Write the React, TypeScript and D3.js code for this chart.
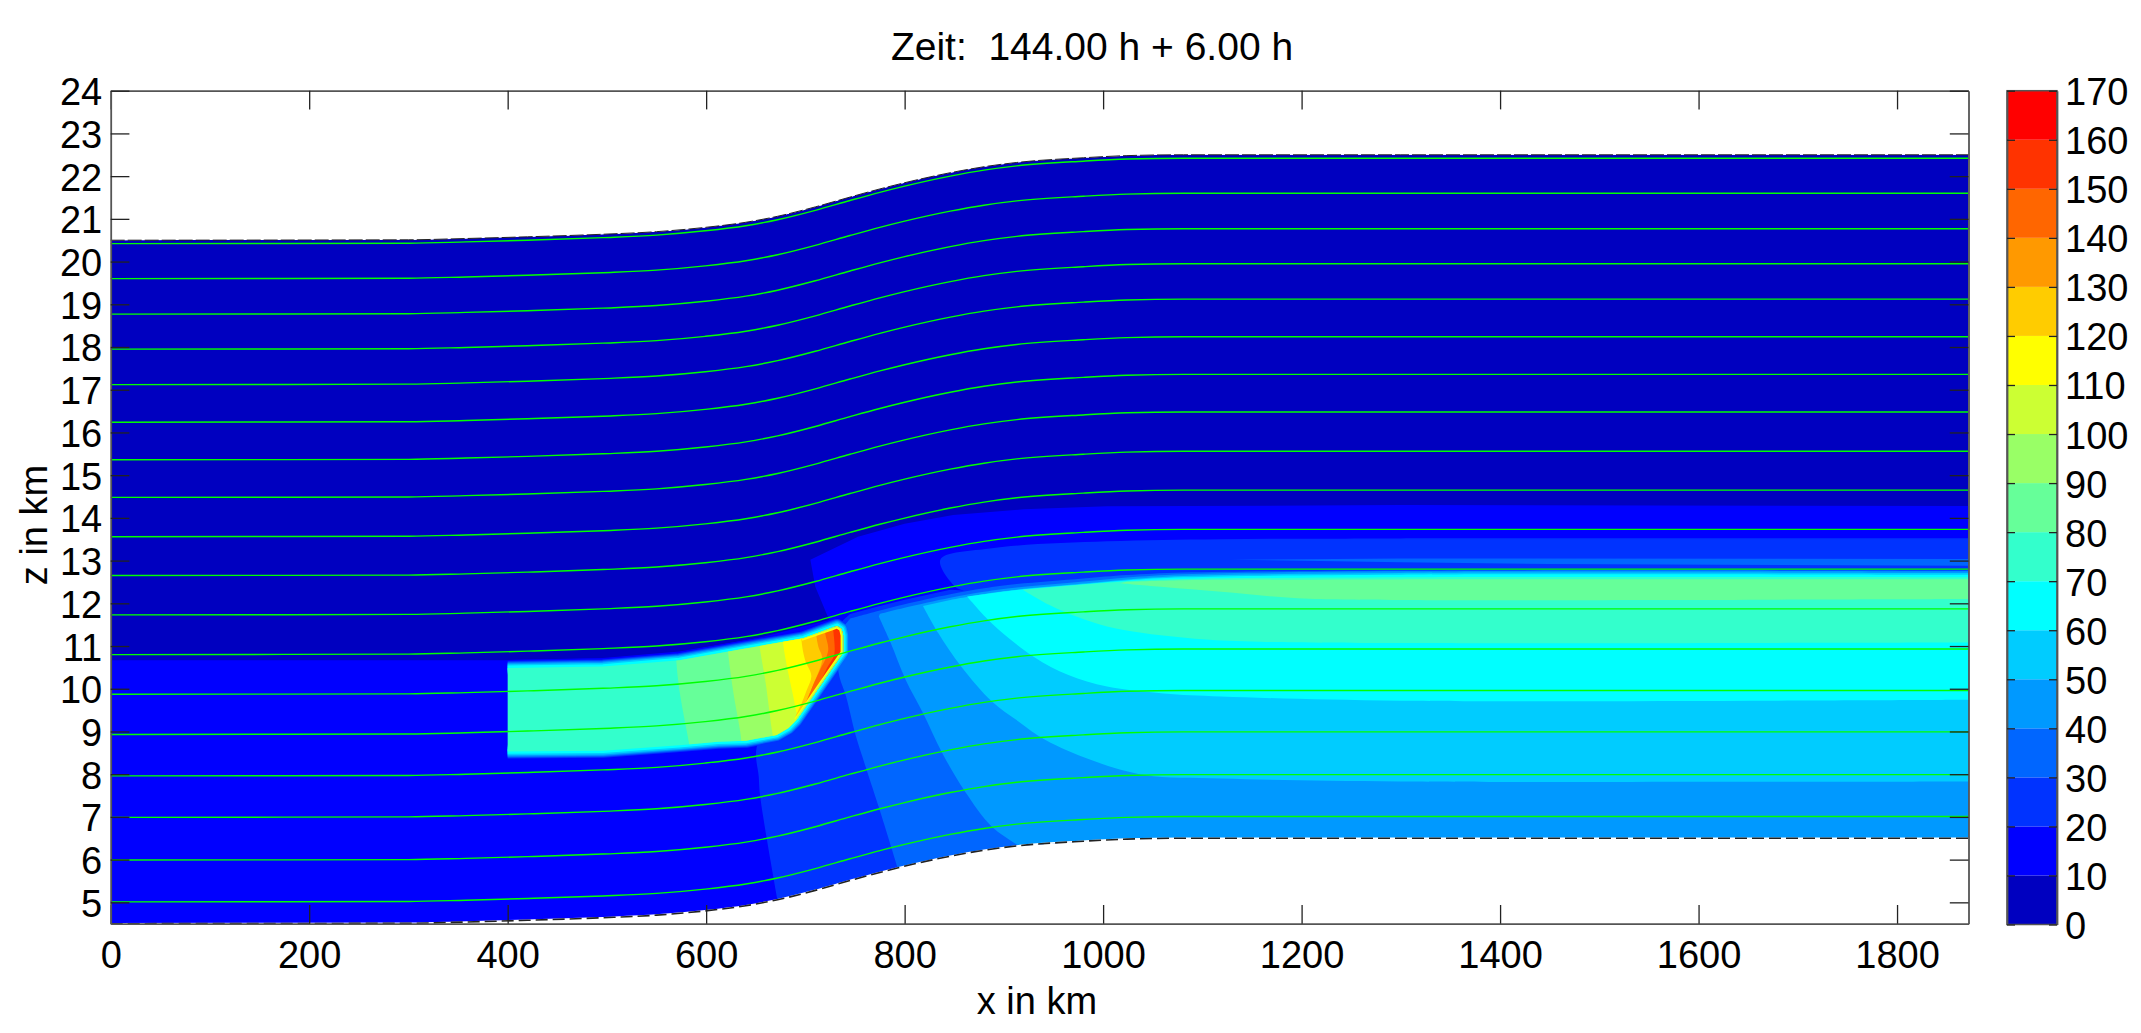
import React, { useEffect, useRef } from 'react'
import * as d3 from 'd3'

type Pt = [number, number]

const W = 2141
const H = 1033

// plot frame
const xDomain = [0, 1872]
const zDomain = [4.5, 24]
const xTicks = [0, 200, 400, 600, 800, 1000, 1200, 1400, 1600, 1800]
const zTicks = d3.range(5, 25)
const barTicks = d3.range(0, 180, 10)

// one colour per 10-unit class, 0-10 up to 160-170
const classColors = [
  '#0000c0', '#0000ff', '#0033ff', '#0066ff', '#0099ff', '#00ccff', '#00ffff', '#33ffcc', '#66ff99',
  '#99ff66', '#ccff33', '#ffff00', '#ffcc00', '#ff9900', '#ff6600', '#ff3300', '#ff0000',
]

// lift of the terrain and of the coordinate surfaces along x
const liftX = [0, 300, 358, 420, 496, 550, 599, 640, 672, 710, 745, 775, 799, 846, 880, 913, 980, 1024, 1081, 1300, 1872]
const liftKm = [0, 0.01, 0.04, 0.08, 0.14, 0.2, 0.3, 0.42, 0.56, 0.78, 1.01, 1.2, 1.34, 1.58, 1.72, 1.82, 1.93, 1.98, 2, 2, 2]
const groundKm = 4.5
const lidKm = 20.5

// green surfaces, height at x = 0
const surfaceKm = [20.42, 19.6, 18.77, 17.95, 17.12, 16.24, 15.36, 14.48, 13.56, 12.65, 11.73, 10.8, 9.87, 8.93, 7.96, 6.99, 5.99, 5.01]
const interfaceKm = 10.8

// how far each class top sits under the interface, west and east of the ridge (classes 2..8)
const rimWest = [0.06, 0.17, 0.25, 0.3, 0.31, 0.31, 0.3]
const rimEast = [0.0, 0.03, 0.05, 0.09, 0.13, 0.19, 0.24]

// class 1
const class1Outline: Pt[] = [
  [0, 10.67], [400, 10.67], [496, 10.72], [573, 10.87], [651, 11.18], [724, 11.61], [710, 12.39], [705, 13.02],
  [753, 13.56], [800, 13.86], [849, 14.07], [920, 14.2], [1004, 14.27], [1300, 14.3], [1872, 14.28], [1872, 4], [0, 4],
]

// class 2
const class2West: Pt[] = [[672, 5.05], [654.5, 7.47], [653, 7.94], [651, 8.64], [690, 10.5], [733, 11.5]]
const class2North: Pt[] = [[860, 12.3], [851, 12.39], [836, 13.02], [888, 13.29], [1004, 13.45], [1119, 13.5], [1300, 13.52], [1872, 13.52]]

// thin class 3 sliver above the interface
const class3Sliver: Pt[] = [[1129, 13.02], [1300, 13.05], [1872, 13.04], [1872, 12.88], [1450, 12.92], [1300, 12.96]]

// lower edges of classes 3..8 under the interface, top to bottom
const class3Edge: Pt[] = [[733, 11.3], [733.6, 10.36], [741, 9.82], [751, 8.88], [760.6, 8.18], [776, 7.08], [793, 5.8]]
const class4Edge: Pt[] = [[774, 11.69], [786, 11.07], [801, 10.21], [818.5, 9.43], [838, 8.49], [861, 7.59], [888, 6.77], [917, 6.3]]
const class5Edge: Pt[] = [[818.5, 11.94], [834, 11.3], [857, 10.52], [888, 9.7], [915, 9.23], [942, 8.8], [988, 8.33], [1042, 7.98], [1119, 7.9], [1300, 7.83], [1872, 7.83]]
const class6Edge: Pt[] = [[863, 12.16], [888, 11.53], [930, 10.75], [965, 10.32], [1004, 10.05], [1061, 9.89], [1119, 9.82], [1300, 9.72], [1872, 9.74]]
const class7Edge: Pt[] = [[919, 12.32], [946, 11.96], [973, 11.69], [1004, 11.46], [1042, 11.3], [1100, 11.16], [1158, 11.1], [1300, 11.07], [1872, 11.08]]
const class8Edge: Pt[] = [[1017, 12.47], [1061, 12.38], [1119, 12.27], [1196, 12.12], [1300, 12.08], [1872, 12.1]]
const lowerEdges: [number, Pt[]][] = [
  [3, class3Edge], [4, class4Edge], [5, class5Edge], [6, class6Edge], [7, class7Edge], [8, class8Edge],
]

// the fast layer: outline of class 7, then inner classes from its rear to the tip
const jetCore: Pt[] = [
  [380, 10.48], [496, 10.52], [573, 10.67], [651, 10.99], [698, 11.18], [726, 11.42], [732, 11.47], [736.5, 11.4], [738, 11.25], [738, 10.85],
  [691, 9.27], [683, 9.08], [671, 8.92], [640, 8.78], [612, 8.76], [573, 8.68], [496, 8.55], [380, 8.53],
]
const jetFront: Pt[] = [[696, 11.18], [726, 11.42], [732, 11.47], [736.5, 11.4], [738, 11.25], [738, 10.85], [691, 9.27]]
const jetEdges: [number, Pt[]][] = [
  [8, [[570, 10.95], [570, 10.64], [573.5, 9.9], [583, 8.7], [585, 8.4]]],
  [9, [[621, 11.2], [622, 10.87], [627.5, 9.9], [635, 8.88], [636, 8.5]]],
  [10, [[653, 11.2], [654, 10.97], [660, 10.13], [666, 9.07], [668, 8.8]]],
  [11, [[677, 11.3], [677.7, 11.03], [682.8, 10.36], [687.8, 9.82], [691, 9.45], [695, 9.2]]],
  [12, [[696, 11.4], [696, 11.14], [699.6, 10.68], [706, 10.3], [701, 9.95], [695, 9.6], [690, 9.35]]],
  [13, [[711, 11.5], [711, 11.26], [713, 10.99], [717, 10.7], [708, 10.1], [698, 9.55], [694, 9.25]]],
  [14, [[720, 11.6], [720, 11.3], [723, 10.9], [714, 10.4], [708, 10.1], [700, 9.62], [697, 9.4]]],
  [15, [[728, 11.6], [728, 11.42], [729, 10.79], [722, 10.5], [716, 10.2], [712, 10.0]]],
]
// half width of the blurred edge of the layer per class 1..6
const jetRim: Record<number, number> = { 1: 8, 2: 7, 3: 6, 4: 5, 5: 3.8, 6: 2.4 }

const x = d3.scaleLinear().domain(xDomain).range([110.7, 1968.5])
const z = d3.scaleLinear().domain(zDomain).range([923.7, 90.7])
const barY = d3.scaleLinear().domain([0, 170]).range([924.5, 90.7])

const lift = d3.scaleLinear().domain(liftX).range(liftKm)
const eastShare = d3.scaleLinear().domain([950, 1150]).range([0, 1]).clamp(true)

const px = (p: Pt): Pt => [x(p[0]), z(p[1])]
const smooth = d3.line().curve(d3.curveCatmullRom.alpha(0.5))
const smoothPts = (pts: Pt[]) => smooth(pts.map(px)) as string
const follow = d3.line().curve(d3.curveMonotoneX)
const surfacePts = (km: number): Pt[] => liftX.map((v, i) => [v, km + liftKm[i]] as Pt)
const surfacePath = (km: number) => follow(surfacePts(km).map(px)) as string
const straight = (pts: Pt[]) => pts.map((p) => 'L' + px(p).join(',')).join('')
const polygon = (pts: Pt[]) => 'M' + pts.map((p) => px(p).join(',')).join('L') + 'Z'

// class top under the interface, read from east to west down to fromX
function rimBack(cls: number, fromX: number) {
  const i = cls - 2
  const pts = liftX
    .filter((v) => v > fromX)
    .map((v) => {
      const share = eastShare(v)
      return [v, interfaceKm + lift(v) - (rimWest[i] * (1 - share) + rimEast[i] * share)] as Pt
    })
    .reverse()
  return smoothPts(pts).replace(/^M/, 'L')
}

const domainPath = surfacePath(lidKm) + straight([[1872, groundKm + 2]]) + straight([...surfacePts(groundKm)].reverse()) + 'Z'

const class2Along = liftX
  .filter((v) => v >= 745 && v <= 846)
  .map((v) => [v, interfaceKm + lift(v) - rimWest[0]] as Pt)
const class2Path = smoothPts(class2West) + straight(class2Along) + smoothPts(class2North).replace(/^M/, 'L') + straight([[1872, 4], [672, 4]]) + 'Z'

function lowerBandPath(cls: number, edge: Pt[]) {
  const last = edge[edge.length - 1]
  const tail: Pt[] = last[0] < 1872 ? [[last[0] + 5, 4], [1872, 4]] : []
  return smoothPts(edge) + straight(tail) + straight([[1872, interfaceKm + 2 - rimEast[cls - 2]]]) + rimBack(cls, edge[0][0]) + 'Z'
}

function jetBandPath(edge: Pt[]) {
  const first = edge[0]
  const last = edge[edge.length - 1]
  return smoothPts(edge) + straight([[770, last[1]], [770, first[1]]]) + 'Z'
}

const corePath = polygon(jetCore)
const frontPath = 'M' + jetFront.map((p) => px(p).join(',')).join('L')

// backgrounds of classes 1..8 in painting order
const backgrounds: [number, string][] = [
  [1, polygon(class1Outline)],
  [2, class2Path],
  [3, polygon(class3Sliver)],
  ...lowerEdges.map(([cls, edge]) => [cls, lowerBandPath(cls, edge)] as [number, string]),
]

function Axes() {
  const ref = useRef<SVGGElement>(null)
  useEffect(() => {
    const root = d3.select(ref.current)
    root.selectAll('*').remove()
    const style = (g: any, dy: string) => {
      g.attr('font-family', '"Liberation Sans", Arial, sans-serif').attr('font-size', 38)
      g.selectAll('.tick line').attr('stroke', '#222').attr('stroke-width', 1.3)
      g.selectAll('.tick text').attr('fill', '#000').attr('dy', dy)
      g.select('.domain').attr('stroke', '#555').attr('stroke-width', 1.8)
    }
    const tick = 18.7
    root.append('g').attr('transform', `translate(0,${z(4.5)})`)
      .call(d3.axisBottom(x).tickValues(xTicks).tickFormat(d3.format('d') as any).tickSizeInner(-tick).tickSizeOuter(0).tickPadding(17))
      .call(style, '0.71em')
    root.append('g').attr('transform', `translate(0,${z(24)})`)
      .call(d3.axisTop(x).tickValues(xTicks).tickFormat(() => '').tickSizeInner(-tick).tickSizeOuter(0))
      .call(style, '0')
    root.append('g').attr('transform', `translate(${x(0)},0)`)
      .call(d3.axisLeft(z).tickValues(zTicks).tickFormat(d3.format('d') as any).tickSizeInner(-tick).tickSizeOuter(0).tickPadding(8.5))
      .call(style, '0.368em')
    root.append('g').attr('transform', `translate(${x(1872)},0)`)
      .call(d3.axisRight(z).tickValues(zTicks).tickFormat(() => '').tickSizeInner(-tick).tickSizeOuter(0))
      .call(style, '0')
    // colour bar
    root.append('g').attr('transform', 'translate(2007,0)')
      .call(d3.axisLeft(barY).tickValues(barTicks).tickFormat(() => '').tickSizeInner(-8).tickSizeOuter(0))
      .call(style, '0')
    root.append('g').attr('transform', 'translate(2057,0)')
      .call(d3.axisRight(barY).tickValues(barTicks).tickFormat(d3.format('d') as any).tickSizeInner(-8).tickSizeOuter(0).tickPadding(8))
      .call(style, '0.368em')
  }, [])
  return <g ref={ref} />
}

export default function App() {
  const font = '"Liberation Sans", Arial, sans-serif'
  return (
    <svg width={W} height={H} style={{ position: 'absolute', left: 0, top: 0, background: '#fff' }} fontFamily={font}>
      <defs>
        <clipPath id="domain"><path d={domainPath} /></clipPath>
        <clipPath id="fromFour"><rect x={x(400)} y={0} width={x(800) - x(400)} height={H} /></clipPath>
        <clipPath id="core"><path d={corePath} /></clipPath>
      </defs>

      <g clipPath="url(#domain)">
        <path d={domainPath} fill={classColors[0]} />
        {backgrounds.map(([cls, d], i) => (
          <g key={i}>
            <path d={d} fill={classColors[cls]} />
            {jetRim[cls] && cls !== 3 && (
              <path d={corePath} fill="none" stroke={classColors[cls]} strokeWidth={jetRim[cls] * 2} strokeLinejoin="round" clipPath="url(#fromFour)" />
            )}
            {cls === 3 && i > 2 && (
              <path d={corePath} fill="none" stroke={classColors[3]} strokeWidth={jetRim[3] * 2} strokeLinejoin="round" clipPath="url(#fromFour)" />
            )}
          </g>
        ))}

        <g clipPath="url(#fromFour)">
          <path d={corePath} fill={classColors[7]} />
          <g clipPath="url(#core)">
            {jetEdges.map(([cls, edge]) => (
              <path key={cls} d={jetBandPath(edge)} fill={classColors[cls]} />
            ))}
            <path d={frontPath} fill="none" stroke={classColors[11]} strokeWidth={5} />
            <path d={frontPath} fill="none" stroke={classColors[9]} strokeWidth={2} />
          </g>
        </g>
      </g>

      {surfaceKm.map((km) => (
        <path key={km} d={surfacePath(km)} fill="none" stroke="#00ff00" strokeWidth={1.4} />
      ))}

      <path d={surfacePath(groundKm)} fill="none" stroke="#fff" strokeWidth={1.6} />
      <path d={surfacePath(groundKm)} fill="none" stroke="#222" strokeWidth={1.6} strokeDasharray="12 5" />
      <path d={surfacePath(lidKm)} fill="none" stroke="#222" strokeWidth={1} strokeDasharray="14 3" />

      {classColors.map((c, i) => (
        <rect key={c} x={2007} y={barY(barTicks[i + 1])} width={50} height={barY(barTicks[i]) - barY(barTicks[i + 1])} fill={c} />
      ))}
      <rect x={2007} y={barY(170)} width={50} height={barY(0) - barY(170)} fill="none" stroke="#555" strokeWidth={1.5} />

      <Axes />

      <text x={1092} y={60} fontSize={39} textAnchor="middle" xmlSpace="preserve" style={{ whiteSpace: 'pre' }}>Zeit:  144.00 h + 6.00 h</text>
      <text x={1037} y={1014} fontSize={38} textAnchor="middle">x in km</text>
      <text transform="translate(47,525) rotate(-90)" fontSize={38} textAnchor="middle">z in km</text>
    </svg>
  )
}
